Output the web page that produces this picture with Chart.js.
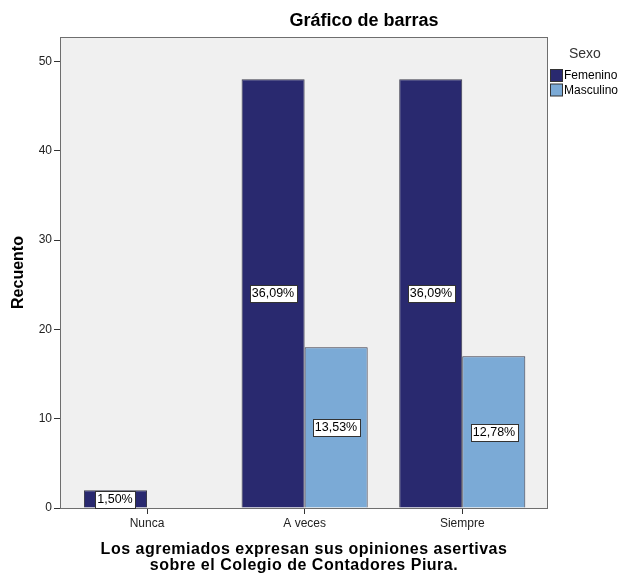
<!DOCTYPE html>
<html>
<head>
<meta charset="utf-8">
<script src="https://cdn.jsdelivr.net/npm/chart.js@4.4.1/dist/chart.umd.min.js"></script>
<style>
  html, body { margin: 0; padding: 0; background: #ffffff; }
  #wrap { position: relative; width: 622px; height: 573px; }
</style>
</head>
<body>
<div id="wrap"><canvas id="barChart" width="622" height="573"></canvas></div>
<script>
const categorias = ['Nunca', 'A veces', 'Siempre'];
const femenino = [2, 48, 48];
const masculino = [0, 18, 17];
const yTicks = [0, 10, 20, 30, 40, 50];
const tituloX = ['Los agremiados expresan sus opiniones asertivas', 'sobre el Colegio de Contadores Piura.'];

const total = femenino.concat(masculino).reduce((a, b) => a + b, 0);
const fmtPct = v => (v / total * 100).toFixed(2).replace('.', ',') + '%';

const FONT = "'Liberation Sans', Arial, sans-serif";

// fondo gris del área de trazado y su marco
const plotFrame = {
  id: 'plotFrame',
  beforeDatasetsDraw(chart) {
    const { ctx, chartArea: a } = chart;
    ctx.save();
    ctx.fillStyle = '#f0f0f0';
    ctx.fillRect(a.left, a.top, a.right - a.left, a.bottom - a.top);
    ctx.restore();
  },
  afterDatasetsDraw(chart) {
    const { ctx, chartArea: a } = chart;
    ctx.save();
    ctx.strokeStyle = '#6e6e6e';
    ctx.lineWidth = 1;
    ctx.strokeRect(a.left + 0.5, a.top + 0.5, a.right - a.left - 1, a.bottom - a.top);
    ctx.restore();
  }
};

// etiquetas de porcentaje en el centro de cada barra
const pctLabels = {
  id: 'pctLabels',
  afterDatasetsDraw(chart) {
    const { ctx } = chart;
    ctx.save();
    ctx.font = '12.5px ' + FONT;
    ctx.textAlign = 'center';
    ctx.textBaseline = 'middle';
    chart.data.datasets.forEach((ds, di) => {
      chart.getDatasetMeta(di).data.forEach((bar, i) => {
        const v = ds.data[i].y;
        if (!v) return;
        const txt = fmtPct(v);
        const cx = Math.round(bar.x);
        const cy = Math.round((bar.y + bar.base) / 2);
        const w = Math.ceil(ctx.measureText(txt).width) + 4;
        const h = 17;
        const x0 = Math.round(cx - w / 2) + 0.5;
        const y0 = Math.round(cy - h / 2) + 0.5;
        ctx.fillStyle = '#ffffff';
        ctx.fillRect(x0, y0, w, h);
        ctx.strokeStyle = '#333333';
        ctx.lineWidth = 1;
        ctx.strokeRect(x0, y0, w, h);
        ctx.fillStyle = '#000000';
        ctx.fillText(txt, cx, cy + 1);
      });
    });
    ctx.restore();
  }
};

// títulos y leyenda "Sexo"
const extras = {
  id: 'extras',
  afterDraw(chart) {
    const { ctx, chartArea: a } = chart;
    ctx.save();
    ctx.fillStyle = '#000000';
    ctx.textAlign = 'center';
    ctx.textBaseline = 'middle';
    ctx.font = 'bold 18px ' + FONT;
    ctx.fillText('Gráfico de barras', 364, 21);

    ctx.font = 'bold 16px ' + FONT;
    ctx.letterSpacing = '0.5px';
    tituloX.forEach((t, i) => ctx.fillText(t, (a.left + a.right) / 2, 550 + i * 16));
    ctx.letterSpacing = '0px';

    ctx.font = '14px ' + FONT;
    ctx.fillStyle = '#333333';
    ctx.textAlign = 'left';
    ctx.fillText('Sexo', 569, 54);

    ctx.font = '12px ' + FONT;
    chart.data.datasets.forEach((ds, i) => {
      const y = 69 + i * 14.5;
      ctx.fillStyle = ds.backgroundColor;
      ctx.fillRect(550.5, y + 0.5, 12, 12);
      ctx.strokeStyle = '#333333';
      ctx.strokeRect(550.5, y + 0.5, 12, 12);
      ctx.fillStyle = '#000000';
      ctx.fillText(ds.label, 564, y + 7);
    });
    ctx.restore();
  }
};

const ctx = document.getElementById('barChart').getContext('2d');
const chart = new Chart(ctx, {
  type: 'bar',
  data: {
    datasets: [{
      label: 'Femenino',
      data: femenino.map((v, i) => ({ x: i, y: v })),
      backgroundColor: '#29296f',
      borderColor: '#3a3a4a',
      borderWidth: 1,
      categoryPercentage: 0.8,
      barPercentage: 1.0
    }, {
      label: 'Masculino',
      data: masculino.map((v, i) => ({ x: i, y: v })),
      backgroundColor: '#7baad6',
      borderColor: '#3a3a4a',
      borderWidth: 1,
      categoryPercentage: 0.8,
      barPercentage: 1.0
    }]
  },
  options: {
    responsive: false,
    animation: false,
    layout: { padding: { top: 37, right: 74, left: 0, bottom: 0 } },
    plugins: {
      legend: { display: false },
      tooltip: { enabled: false },
      title: { display: false }
    },
    scales: {
      x: {
        type: 'linear',
        min: -0.552,
        max: 2.544,
        offset: false,
        afterBuildTicks: scale => {
          scale.ticks = categorias.map((c, i) => ({ value: i }));
        },
        afterFit: scale => { scale.height = 65; },
        ticks: {
          callback: v => categorias[v],
          color: '#222222',
          font: { family: FONT, size: 12 },
          padding: 2,
          maxRotation: 0
        },
        grid: {
          offset: false,
          drawOnChartArea: false,
          tickLength: 6,
          color: '#333333'
        },
        border: { display: false },
        title: { display: false }
      },
      y: {
        min: 0,
        max: 52.73,
        afterBuildTicks: scale => {
          scale.ticks = yTicks.map(v => ({ value: v }));
        },
        afterFit: scale => { scale.width = 60; },
        ticks: {
          color: '#222222',
          font: { family: FONT, size: 12 },
          padding: 2
        },
        grid: {
          drawOnChartArea: false,
          tickLength: 6,
          color: '#333333'
        },
        border: { display: false },
        title: {
          display: true,
          text: 'Recuento',
          color: '#000000',
          font: { family: FONT, size: 16, weight: 'bold' },
          padding: { top: 9, bottom: 0 }
        }
      }
    }
  },
  plugins: [plotFrame, pctLabels, extras]
});
</script>
</body>
</html>
